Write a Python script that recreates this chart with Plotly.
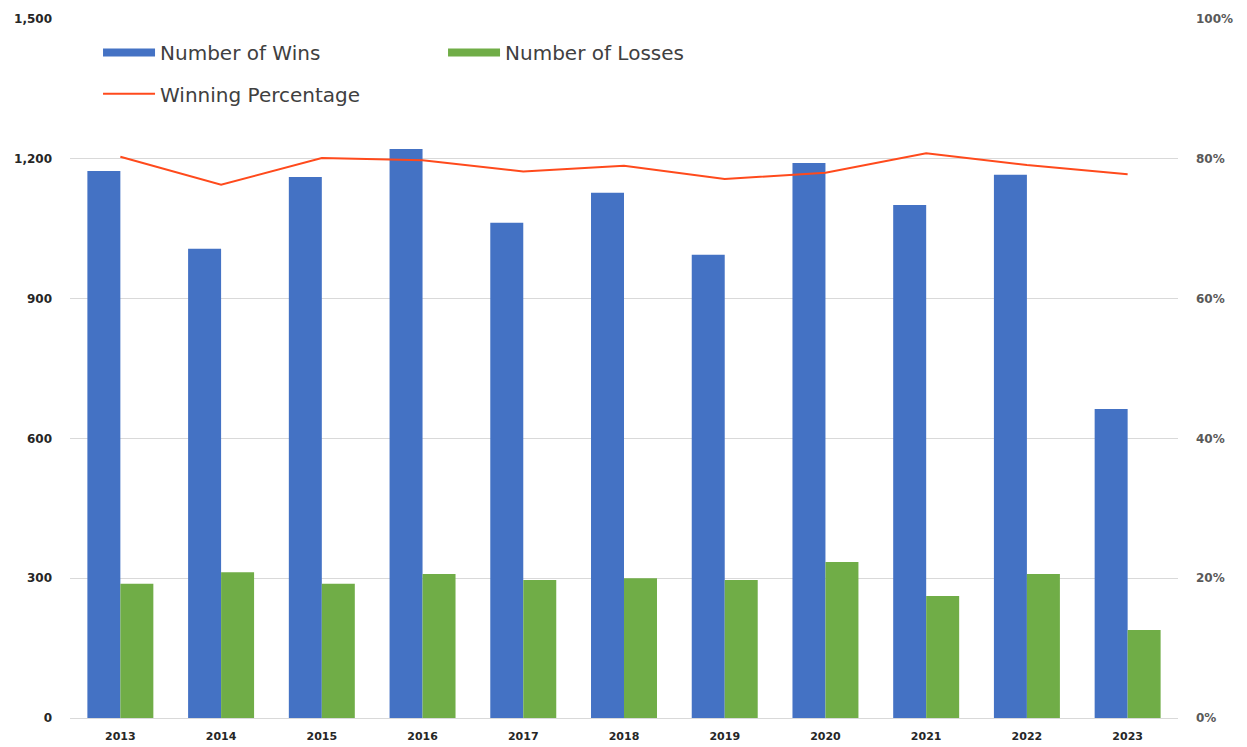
import plotly.graph_objects as go

years = ["2013", "2014", "2015", "2016", "2017", "2018", "2019", "2020", "2021", "2022", "2023"]
wins = [1174, 1007, 1161, 1221, 1063, 1127, 994, 1191, 1101, 1166, 663]
losses = [288, 313, 288, 309, 296, 300, 296, 335, 262, 309, 189]
win_pct = [0.803, 0.763, 0.801, 0.798, 0.782, 0.790, 0.771, 0.780, 0.808, 0.791, 0.778]

left_ticks = [0, 300, 600, 900, 1200, 1500]
left_labels = ["0", "300", "600", "900", "1,200", "1,500"]
right_ticks = [0, 0.2, 0.4, 0.6, 0.8, 1.0]
right_labels = ["0%", "20%", "40%", "60%", "80%", "100%"]

BLUE = "#4472C4"
GREEN = "#70AD47"
RED = "#FF4A1C"
FONT = "DejaVu Sans"

fig = go.Figure()
fig.add_trace(go.Bar(x=years, y=wins, name="Number of Wins", marker_color=BLUE,
                     marker_line_width=0, showlegend=False))
fig.add_trace(go.Bar(x=years, y=losses, name="Number of Losses", marker_color=GREEN,
                     marker_line_width=0, showlegend=False))
fig.add_trace(go.Scatter(x=years, y=win_pct, name="Winning Percentage", mode="lines",
                         line=dict(color=RED, width=2), yaxis="y2", showlegend=False))

# legend entries
fig.add_trace(go.Scatter(x=[None], y=[None], mode="lines", name="Number of Wins",
                         line=dict(color=BLUE, width=8), legend="legend"))
fig.add_trace(go.Scatter(x=[None], y=[None], mode="lines", name="Number of Losses",
                         line=dict(color=GREEN, width=8), legend="legend"))
fig.add_trace(go.Scatter(x=[None], y=[None], mode="lines", name="Winning Percentage",
                         line=dict(color=RED, width=2), legend="legend2", yaxis="y2"))

fig.update_layout(
    width=1239, height=739,
    margin=dict(l=62, r=69, t=11, b=29),
    plot_bgcolor="white", paper_bgcolor="white",
    barmode="group", bargap=0.345, bargroupgap=0,
    font=dict(family=FONT, color="#404040"),
    xaxis=dict(showgrid=False, showline=True, linecolor="#d9d9d9", linewidth=1,
               tickfont=dict(size=11, color="#262626", weight="bold"), ticks="",
               ticklabelstandoff=8, automargin=False),
    yaxis=dict(range=[0, 1500], tickvals=left_ticks, ticktext=left_labels,
               showgrid=True, gridcolor="#d9d9d9", gridwidth=1, zeroline=False,
               tickfont=dict(size=12, color="#262626", weight="bold"), ticklabelstandoff=17,
               automargin=False),
    yaxis2=dict(range=[0, 1.0], tickvals=right_ticks, ticktext=right_labels,
                overlaying="y", side="right", showgrid=False, zeroline=False,
                tickfont=dict(size=12, color="#595959", weight="bold"), ticklabelstandoff=17,
                automargin=False),
    legend=dict(orientation="h", x=0.0253, y=0.980, xanchor="left", yanchor="top",
                font=dict(size=20, family=FONT, color="#404040"), itemwidth=52,
                entrywidth=278, entrywidthmode="pixels", bgcolor="rgba(0,0,0,0)"),
    legend2=dict(orientation="h", x=0.0253, y=0.921, xanchor="left", yanchor="top",
                 font=dict(size=20, family=FONT, color="#404040"), itemwidth=52,
                 bgcolor="rgba(0,0,0,0)"),
)

fig.write_html("out.html")
